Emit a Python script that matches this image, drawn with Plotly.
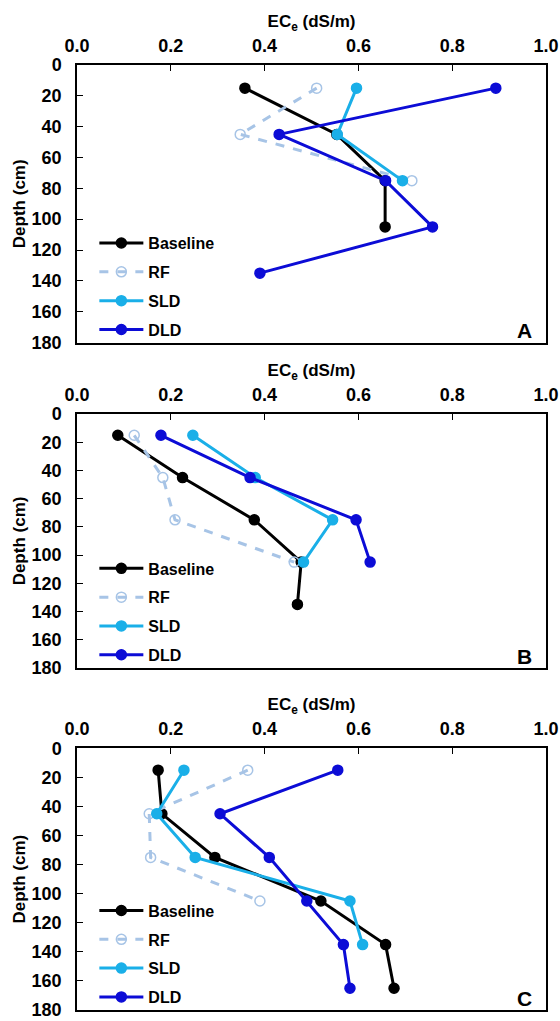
import plotly.graph_objects as go

# Sampling depths (cm)
depth = [15, 45, 75, 105, 135, 165]

# Panel A: ECe (dS/m) by treatment
a_baseline = [0.358, 0.554, 0.657, 0.657]
a_rf = [0.511, 0.348, 0.714]
a_sld = [0.596, 0.555, 0.694]
a_dld = [0.893, 0.431, 0.658, 0.758, 0.390]

# Panel B
b_baseline = [0.087, 0.225, 0.378, 0.478, 0.470]
b_rf = [0.122, 0.183, 0.209, 0.463]
b_sld = [0.247, 0.380, 0.545, 0.483]
b_dld = [0.179, 0.369, 0.595, 0.625]

# Panel C
c_baseline = [0.173, 0.181, 0.294, 0.520, 0.658, 0.676]
c_rf = [0.364, 0.154, 0.157, 0.390]
c_sld = [0.228, 0.170, 0.252, 0.582, 0.609]
c_dld = [0.556, 0.305, 0.410, 0.490, 0.568, 0.582]

series_names = ["Baseline", "RF", "SLD", "DLD"]
panel_labels = ["A", "B", "C"]
x_ticks = [0.0, 0.2, 0.4, 0.6, 0.8, 1.0]
y_ticks = [0, 20, 40, 60, 80, 100, 120, 140, 160, 180]

panels = [
    [a_baseline, a_rf, a_sld, a_dld],
    [b_baseline, b_rf, b_sld, b_dld],
    [c_baseline, c_rf, c_sld, c_dld],
]

styles = {
    "Baseline": dict(color="#000000", dash="solid", symbol="circle"),
    "RF": dict(color="#A7C4E6", dash="dash", symbol="circle-open"),
    "SLD": dict(color="#1AAFE8", dash="solid", symbol="circle"),
    "DLD": dict(color="#0C0CD6", dash="solid", symbol="circle"),
}

FONT = "Liberation Sans, Arial, sans-serif"
W, H = 560, 1021
M_L, M_R, M_T, M_B = 77, 14, 65, 6
plot_h = H - M_T - M_B

# vertical pixel extents of the three panels (top, bottom)
panel_px = [(65, 344), (416, 671), (752, 1015)]


def py(p):
    return (H - M_B - p) / plot_h


fig = go.Figure()

for i, (vals, lab) in enumerate(zip(panels, panel_labels)):
    sfx = "" if i == 0 else str(i + 1)
    legend_name = "legend" + sfx
    for name, xs in zip(series_names, vals):
        st = styles[name]
        fig.add_trace(go.Scatter(
            x=xs, y=depth[:len(xs)], name=name,
            mode="lines+markers",
            line=dict(color=st["color"], width=3, dash=st["dash"]),
            marker=dict(symbol=st["symbol"], size=10, color=st["color"],
                        line=dict(color=st["color"], width=1.5)),
            xaxis="x" + sfx, yaxis="y" + sfx,
            legend=legend_name, legendgroup=lab + name,
        ))

    top, bot = panel_px[i]
    fig.update_layout({
        "xaxis" + sfx: dict(
            domain=[0, 1], anchor="y" + sfx, side="top", range=[0, 1],
            tickvals=x_ticks, ticktext=[f"{v:.1f}" for v in x_ticks],
            ticks="inside", ticklen=6, tickwidth=1.2, tickcolor="black",
            showline=True, linewidth=1.5, linecolor="black", mirror=True,
            showgrid=False, zeroline=False, ticklabelstandoff=4,
            automargin=False,
            tickfont=dict(family=FONT, size=18, color="black", weight="bold"),
            title=dict(text="EC<sub>e</sub> (dS/m)", standoff=4,
                       font=dict(family=FONT, size=17, color="black", weight="bold")),
        ),
        "yaxis" + sfx: dict(
            domain=[py(bot), py(top)], anchor="x" + sfx, range=[180, 0],
            tickvals=y_ticks, ticks="inside", ticklen=6, tickwidth=1.2,
            tickcolor="black", showline=True, linewidth=1.5, linecolor="black",
            mirror=True, showgrid=False, zeroline=False, ticklabelstandoff=10,
            automargin=False,
            tickfont=dict(family=FONT, size=18, color="black", weight="bold"),
            title=dict(text="Depth (cm)", standoff=2,
                       font=dict(family=FONT, size=17, color="black", weight="bold")),
        ),
        legend_name: dict(
            x=0.037, xanchor="left", y=py(bot - 117), yanchor="top",
            bgcolor="rgba(0,0,0,0)", tracegroupgap=5, itemwidth=44,
            font=dict(family=FONT, size=16, color="black", weight="bold"),
        ),
    })
    fig.add_annotation(
        x=0.975, y=172, xref="x" + sfx, yref="y" + sfx, text=lab,
        showarrow=False, xanchor="right", yanchor="middle",
        font=dict(family=FONT, size=21, color="black", weight="bold"),
    )

fig.update_layout(
    width=W, height=H,
    margin=dict(l=M_L, r=M_R, t=M_T, b=M_B),
    paper_bgcolor="white", plot_bgcolor="white",
    font=dict(family=FONT, color="black"),
    showlegend=True,
)

fig.write_html("out.html")
